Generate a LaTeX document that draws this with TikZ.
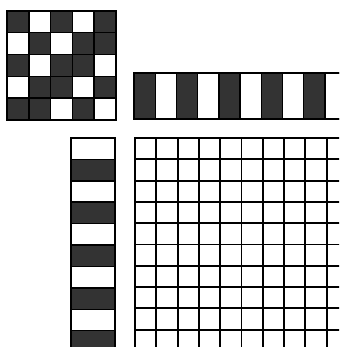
\documentclass[tikz,border=0pt]{standalone}
\usepackage{tikz}
\definecolor{stipple}{HTML}{333333}
\tikzset{
  darkcell/.style={draw=black,line width=1.2pt,fill=stipple},
  whitecell/.style={draw=black,line width=1.2pt,fill=white},
  outerframe/.style={draw=black,line width=2.4pt},
  gridline/.style={black,line width=1.6pt}
}
\begin{document}
\begin{tikzpicture}[x=0.03cm,y=-0.03cm]
  \useasboundingbox (0,0) rectangle (339,347);
  \clip (0,0) rectangle (339,347);
  % checkerboard
  \foreach \c in {0,...,4}
    \foreach \r in {0,...,4}
      \draw[whitecell] (7+\c*21.8,11+\r*21.8) rectangle ++(21.8,21.8);
  \foreach \c/\r in {0/0,2/0,4/0,1/1,3/1,4/1,0/2,2/2,3/2,1/3,2/3,4/3,0/4,1/4,3/4}
    \draw[darkcell] (7+\c*21.8,11+\r*21.8) rectangle ++(21.8,21.8);
  \draw[outerframe] (7,11) rectangle (116,120);
  % top strip
  \foreach \i in {1,3,...,9}
    \draw[whitecell] (134+\i*21.2,73) rectangle ++(21.2,46);
  \foreach \i in {0,2,...,8}
    \draw[darkcell] (134+\i*21.2,73) rectangle ++(21.2,46);
  \draw[outerframe] (134,73) rectangle (350,119);
  % left strip
  \foreach \i in {0,2,...,8}
    \draw[whitecell] (71,138+\i*21.4) rectangle ++(44,21.4);
  \foreach \i in {1,3,...,9}
    \draw[darkcell] (71,138+\i*21.4) rectangle ++(44,21.4);
  \draw[outerframe] (71,138) rectangle (115,360);
  % grid
  \foreach \i in {1,...,10}{
    \draw[gridline] (135+\i*21.3,138) -- (135+\i*21.3,350);
    \draw[gridline] (135,138+\i*21.3) -- (350,138+\i*21.3);
  }
  \draw[outerframe] (135,350) -- (135,138) -- (350,138);
\end{tikzpicture}
\end{document}
